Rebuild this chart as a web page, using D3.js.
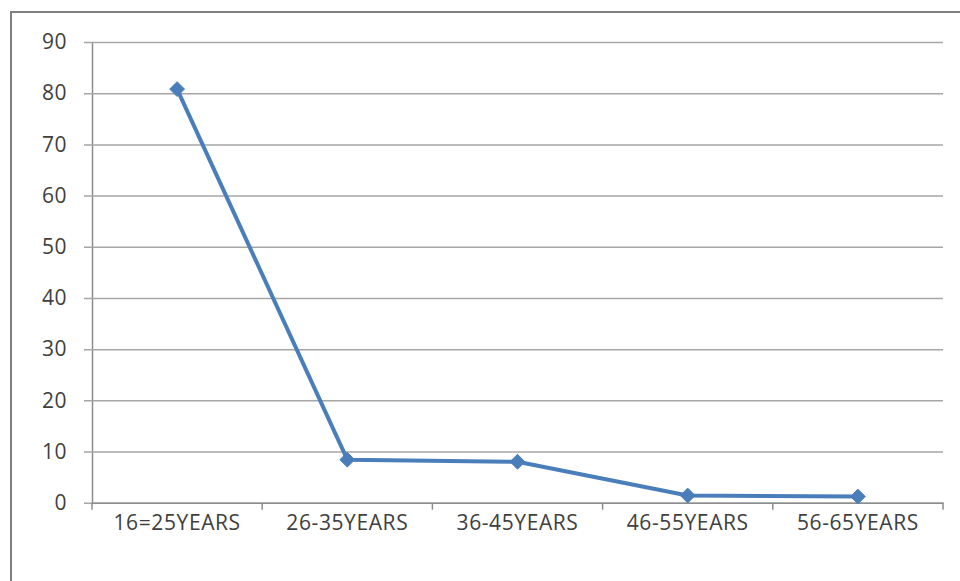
<!DOCTYPE html>
<html>
<head>
<meta charset="utf-8">
<script src="https://cdn.jsdelivr.net/npm/d3@7"></script>
<style>
  html, body { margin: 0; padding: 0; background: #fff; }
  svg { display: block; }
  text { font-family: "Open Sans", "Noto Sans", sans-serif; fill: #404040; }
</style>
</head>
<body>
<script>
// Age groups and their values
const categories = ["16=25YEARS", "26-35YEARS", "36-45YEARS", "46-55YEARS", "56-65YEARS"];
const values = [80.8, 8.4, 8.0, 1.4, 1.2];
const yTicks = [0, 10, 20, 30, 40, 50, 60, 70, 80, 90];

const W = 960, H = 581;
const margin = { left: 92, right: 17, top: 42, bottom: 78 };

const svg = d3.select("body").append("svg").attr("width", W).attr("height", H);

// outer frame
svg.append("rect")
  .attr("x", 11).attr("y", 12)
  .attr("width", W + 10).attr("height", H + 10)
  .attr("fill", "none").attr("stroke", "#808080").attr("stroke-width", 2);

const x = d3.scaleBand().domain(categories)
  .range([margin.left, W - margin.right]).padding(0);
const y = d3.scaleLinear().domain([0, 90])
  .range([H - margin.bottom - 0.3, margin.top]);

// horizontal gridlines with left tick stubs
const yAxis = d3.axisLeft(y).tickValues(yTicks)
  .tickSize(-(W - margin.right - margin.left)).tickSizeOuter(0).tickPadding(25);
const gy = svg.append("g").attr("transform", `translate(${margin.left},0)`).call(yAxis);
gy.select(".domain").attr("stroke", "#8c8c8c").attr("stroke-width", 1.5);
gy.selectAll(".tick line").attr("stroke", "#a6a6a6").attr("stroke-width", 1.5)
  .attr("x1", -8);
gy.selectAll(".tick text").attr("font-size", 21).attr("letter-spacing", 0.5)
  .style("fill", "#404040");

// category axis with ticks at band boundaries
const xAxis = d3.axisBottom(x).tickSize(0).tickPadding(12);
const gx = svg.append("g").attr("transform", `translate(0,${y(0)})`).call(xAxis);
gx.select(".domain").attr("stroke", "#8c8c8c").attr("stroke-width", 1.5);
gx.selectAll(".tick text").attr("font-size", 21).attr("letter-spacing", 0.6)
  .style("fill", "#404040");
const bounds = categories.map(c => x(c)).concat([x(categories[categories.length - 1]) + x.bandwidth()]);
gx.selectAll(".bound").data(bounds).enter().append("line")
  .attr("x1", d => d).attr("x2", d => d)
  .attr("y1", 0).attr("y2", 7)
  .attr("stroke", "#8c8c8c").attr("stroke-width", 1.5);

// series line
const cx = c => x(c) + x.bandwidth() / 2;
const line = d3.line().x((d, i) => cx(categories[i])).y(d => y(d));
svg.append("path").datum(values)
  .attr("d", line)
  .attr("fill", "none").attr("stroke", "#4a7ebb").attr("stroke-width", 4)
  .attr("stroke-linejoin", "round");

// diamond markers
const diamond = d3.symbol().type(d3.symbolDiamond2).size(140);
svg.selectAll(".pt").data(values).enter().append("path")
  .attr("d", diamond)
  .attr("transform", (d, i) => `translate(${cx(categories[i])},${y(d)})`)
  .attr("fill", "#4a7ebb").attr("stroke", "#4a7ebb").attr("stroke-width", 1);
</script>
</body>
</html>
